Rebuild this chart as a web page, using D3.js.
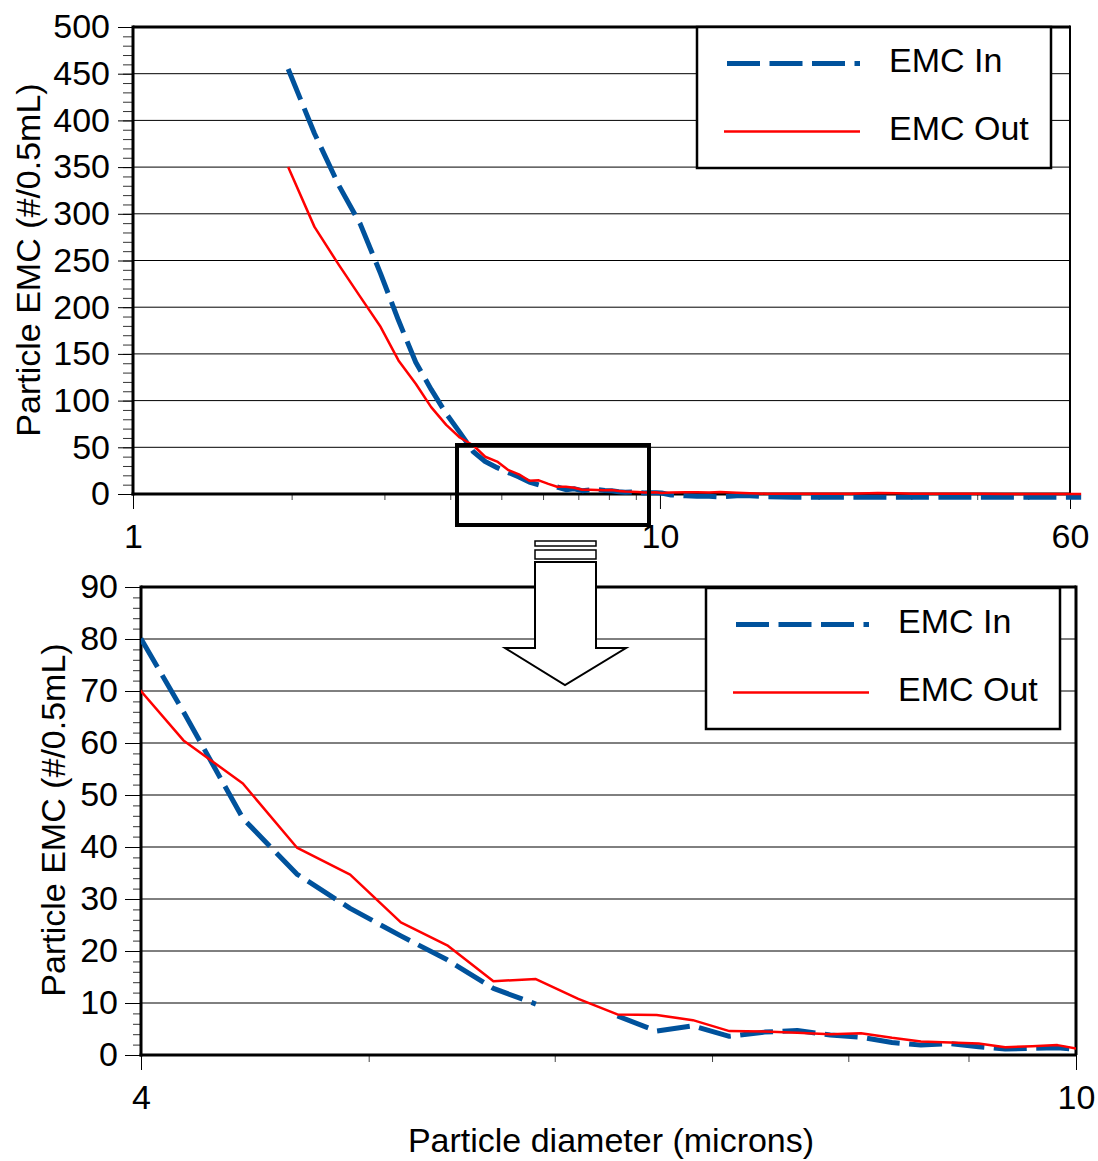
<!DOCTYPE html>
<html>
<head>
<meta charset="utf-8">
<title>Particle EMC by diameter</title>
<script src="https://cdn.jsdelivr.net/npm/d3@7"></script>
<style>
  body { margin: 0; background: #fff; }
  svg { display: block; }
  text { font-family: "Liberation Sans", Arial, sans-serif; fill: #000; }
</style>
</head>
<body>
<svg id="chart" width="1098" height="1161"></svg>
<script>
// Particle diameter (microns) for each counter channel
const diameter = [1.97, 2.21, 2.46, 2.70, 2.95, 3.19, 3.44, 3.68, 3.93, 4.17,
                  4.42, 4.66, 4.91, 5.16, 5.40, 5.65, 5.89, 6.14, 6.38, 6.63,
                  6.87, 7.12, 7.37, 7.61, 7.86, 8.10, 8.35, 8.59, 8.84, 9.09,
                  9.33, 9.58, 9.82, 10.07, 10.5, 11.2, 11.75, 12.4, 13.0, 14.0,
                  14.8, 16, 18, 20, 23, 25.9, 28.2, 30, 35, 40,
                  45, 50, 55, 63];

// Event mean concentration, inflow (#/0.5mL); null = no reading
const emcIn = [455, 386, 330, 289, 236, 186, 141, 112, 86, 66,
               45.5, 34.8, 28.2, 22.9, 18.3, 12.8, 9.8, null, 7.5, 4.6,
               5.6, 3.6, 4.4, 4.7, 3.85, 3.4, 2.4, 1.9, 2.2, 1.6,
               1.15, 1.3, 1.4, 1.0, -1, -2, -2.5, -2.5, -3, -2,
               -2, -3, -3.5, -3.5, -3.5, -3.5, -3.5, -3.5, -3.5, -3.5,
               -3.5, -3.5, -3.5, -3.5];

// Event mean concentration, outflow (#/0.5mL)
const emcOut = [350, 286, 245, 211, 179, 143, 118, 93, 74, 60.5,
                52.2, 39.9, 34.7, 25.5, 21.1, 14.2, 14.6, 10.8, 7.8, 7.7,
                6.7, 4.6, 4.5, 4.3, 4.0, 4.2, 3.3, 2.6, 2.4, 2.2,
                1.5, 1.7, 1.9, 1.0, 1.5, 1.8, 1.9, 1.5, 2.1, 1.3,
                0.8, 0.3, 0.3, 0.3, 0.4, 1.0, 0.9, 0.2, 0.2, 0.2,
                0.1, 0.1, 0.1, 0.1];

const seriesNames = ["EMC In", "EMC Out"];

// Axis ticks
const overviewYTicks = [0, 50, 100, 150, 200, 250, 300, 350, 400, 450, 500];
const overviewXLabels = [1, 10, 60];
const overviewXMinor = [2, 3, 4, 5, 6, 7, 8, 9, 20, 30, 40, 50];
const detailYTicks = [0, 10, 20, 30, 40, 50, 60, 70, 80, 90];
const detailXLabels = [4, 10];
const detailXMinor = [5, 6, 7, 8, 9];

const BLUE = "#00529c";
const RED = "#ff0000";
const FONT = 34;

const svg = d3.select("#chart");

const rows = diameter.map((d, i) => ({ d, inV: emcIn[i], outV: emcOut[i] }));

function drawPanel(o) {
  const x = d3.scaleLog().domain(o.xDomain).range([o.left, o.right]);
  const y = d3.scaleLinear().domain(o.yDomain).range([o.bottom, o.top]);
  const g = svg.append("g");

  // horizontal gridlines
  g.append("g").selectAll("line")
    .data(o.yTicks.filter(v => v > o.yDomain[0] && v < o.yDomain[1]))
    .join("line")
    .attr("x1", o.left).attr("x2", o.right)
    .attr("y1", d => y(d)).attr("y2", d => y(d))
    .attr("stroke", "#000").attr("stroke-width", 1);

  // minor y ticks
  const minorY = d3.range(o.yDomain[0], o.yDomain[1] + 1e-9, o.yMinor);
  g.append("g").attr("transform", `translate(${o.left},0)`)
    .call(d3.axisLeft(y).tickValues(minorY).tickSize(o.yMinorLen).tickFormat(""))
    .call(a => a.select(".domain").remove())
    .call(a => a.selectAll("line").attr("stroke", "#333"));

  // major y ticks + labels
  g.append("g").attr("transform", `translate(${o.left},0)`)
    .call(d3.axisLeft(y).tickValues(o.yTicks).tickSize(o.yMajorLen).tickPadding(o.yPad).tickFormat(d3.format("d")))
    .call(a => a.select(".domain").remove())
    .call(a => a.selectAll("line").attr("stroke", "#000"))
    .call(a => a.selectAll("text").attr("font-size", FONT).attr("font-family", "Liberation Sans, Arial, sans-serif"));

  // minor x ticks
  g.append("g").attr("transform", `translate(0,${o.bottom})`)
    .call(d3.axisBottom(x).tickValues(o.xMinor).tickSize(o.xMinorLen).tickFormat(""))
    .call(a => a.select(".domain").remove())
    .call(a => a.selectAll("line").attr("stroke", "#444"));

  // labelled x ticks
  g.append("g").attr("transform", `translate(0,${o.bottom})`)
    .call(d3.axisBottom(x).tickValues(o.xLabels).tickSize(o.xMajorLen).tickPadding(o.xPad).tickFormat(d3.format("d")))
    .call(a => a.select(".domain").remove())
    .call(a => a.selectAll("line").attr("stroke", "#000"))
    .call(a => a.selectAll("text").attr("font-size", FONT).attr("font-family", "Liberation Sans, Arial, sans-serif"));

  // plot frame: top and right border, then the two axis lines
  g.append("line").attr("x1", o.left).attr("x2", o.right).attr("y1", o.top).attr("y2", o.top)
    .attr("stroke", "#000").attr("stroke-width", 3);
  g.append("line").attr("x1", o.right).attr("x2", o.right).attr("y1", o.top - 1.5).attr("y2", o.bottom)
    .attr("stroke", "#000").attr("stroke-width", o.rightWidth);
  g.append("line").attr("x1", o.left).attr("x2", o.left).attr("y1", o.top - 1.5).attr("y2", o.bottom + 1.5)
    .attr("stroke", "#000").attr("stroke-width", 3);
  g.append("line").attr("x1", o.left - 1.5).attr("x2", o.right).attr("y1", o.bottom).attr("y2", o.bottom)
    .attr("stroke", "#000").attr("stroke-width", 3);

  // series
  const series = g.append("g");
  if (o.clipId) {
    svg.append("defs").append("clipPath").attr("id", o.clipId)
      .append("rect").attr("x", o.left).attr("y", o.top - 20)
      .attr("width", o.right - o.left).attr("height", o.bottom - o.top + 40);
    series.attr("clip-path", `url(#${o.clipId})`);
  }
  const lineIn = d3.line().defined(r => r.inV != null).x(r => x(r.d)).y(r => y(r.inV));
  const lineOut = d3.line().defined(r => r.outV != null).x(r => x(r.d)).y(r => y(r.outV));
  series.append("path").datum(rows).attr("d", lineIn)
    .attr("fill", "none").attr("stroke", BLUE).attr("stroke-width", 5)
    .attr("stroke-dasharray", "33,9.5").attr("stroke-linejoin", "round");
  series.append("path").datum(rows).attr("d", lineOut)
    .attr("fill", "none").attr("stroke", RED).attr("stroke-width", 2.5)
    .attr("stroke-linejoin", "round");

  // y axis title
  g.append("text")
    .attr("transform", `translate(${o.titleX},${o.titleY}) rotate(-90)`)
    .attr("text-anchor", "middle").attr("font-size", FONT)
    .text("Particle EMC (#/0.5mL)");

  // legend
  const lg = g.append("g").attr("transform", `translate(${o.legendX},${o.legendY})`);
  lg.append("rect").attr("width", 354).attr("height", 141)
    .attr("fill", "#fff").attr("stroke", "#000").attr("stroke-width", 2.5);
  lg.append("line").attr("x1", 30).attr("x2", 163).attr("y1", 36.5).attr("y2", 36.5)
    .attr("stroke", BLUE).attr("stroke-width", 5).attr("stroke-dasharray", "33,9.5");
  lg.append("line").attr("x1", 27).attr("x2", 163).attr("y1", 104.5).attr("y2", 104.5)
    .attr("stroke", RED).attr("stroke-width", 2.5);
  lg.append("text").attr("x", 192).attr("y", 44.5).attr("font-size", FONT).text(seriesNames[0]);
  lg.append("text").attr("x", 192).attr("y", 112.5).attr("font-size", FONT).text(seriesNames[1]);

  return { x, y };
}

// Full size range
const overview = drawPanel({
  xDomain: [1, 60], yDomain: [0, 500],
  left: 133, right: 1070, top: 27, bottom: 494,
  yTicks: overviewYTicks, yMinor: 10, yMinorLen: 10, yMajorLen: 15, yPad: 8,
  xLabels: overviewXLabels, xMinor: overviewXMinor, xMinorLen: 6, xMajorLen: 15, xPad: 15,
  rightWidth: 2, titleX: 40, titleY: 260,
  legendX: 697, legendY: 27
});

// Detail of the 4-10 micron range
const detail = drawPanel({
  xDomain: [4, 10], yDomain: [0, 90],
  left: 141, right: 1076, top: 587, bottom: 1055,
  yTicks: detailYTicks, yMinor: 2, yMinorLen: 8, yMajorLen: 16, yPad: 7,
  xLabels: detailXLabels, xMinor: detailXMinor, xMinorLen: 7, xMajorLen: 15, xPad: 15,
  rightWidth: 3, titleX: 65, titleY: 820,
  legendX: 706, legendY: 588, clipId: "detail-clip"
});

// x axis title under the detail panel
svg.append("text").attr("x", 611).attr("y", 1152).attr("text-anchor", "middle")
  .attr("font-size", FONT).text("Particle diameter (microns)");

// Box marking the enlarged region on the overview panel
svg.append("rect").attr("x", 457).attr("y", 445).attr("width", 192).attr("height", 80)
  .attr("fill", "none").attr("stroke", "#000").attr("stroke-width", 4);

// Block arrow pointing down to the detail panel
const arrow = svg.append("g").attr("fill", "#fff").attr("stroke", "#000");
arrow.append("rect").attr("x", 535).attr("y", 541).attr("width", 61).attr("height", 5).attr("stroke-width", 1.5);
arrow.append("rect").attr("x", 535).attr("y", 550).attr("width", 61).attr("height", 9).attr("stroke-width", 1.5);
arrow.append("path")
  .attr("d", "M535,562 L535,648 L505,648 L565,685 L626,648 L596,648 L596,562 Z")
  .attr("stroke-width", 2).attr("stroke-linejoin", "miter");
</script>
</body>
</html>
